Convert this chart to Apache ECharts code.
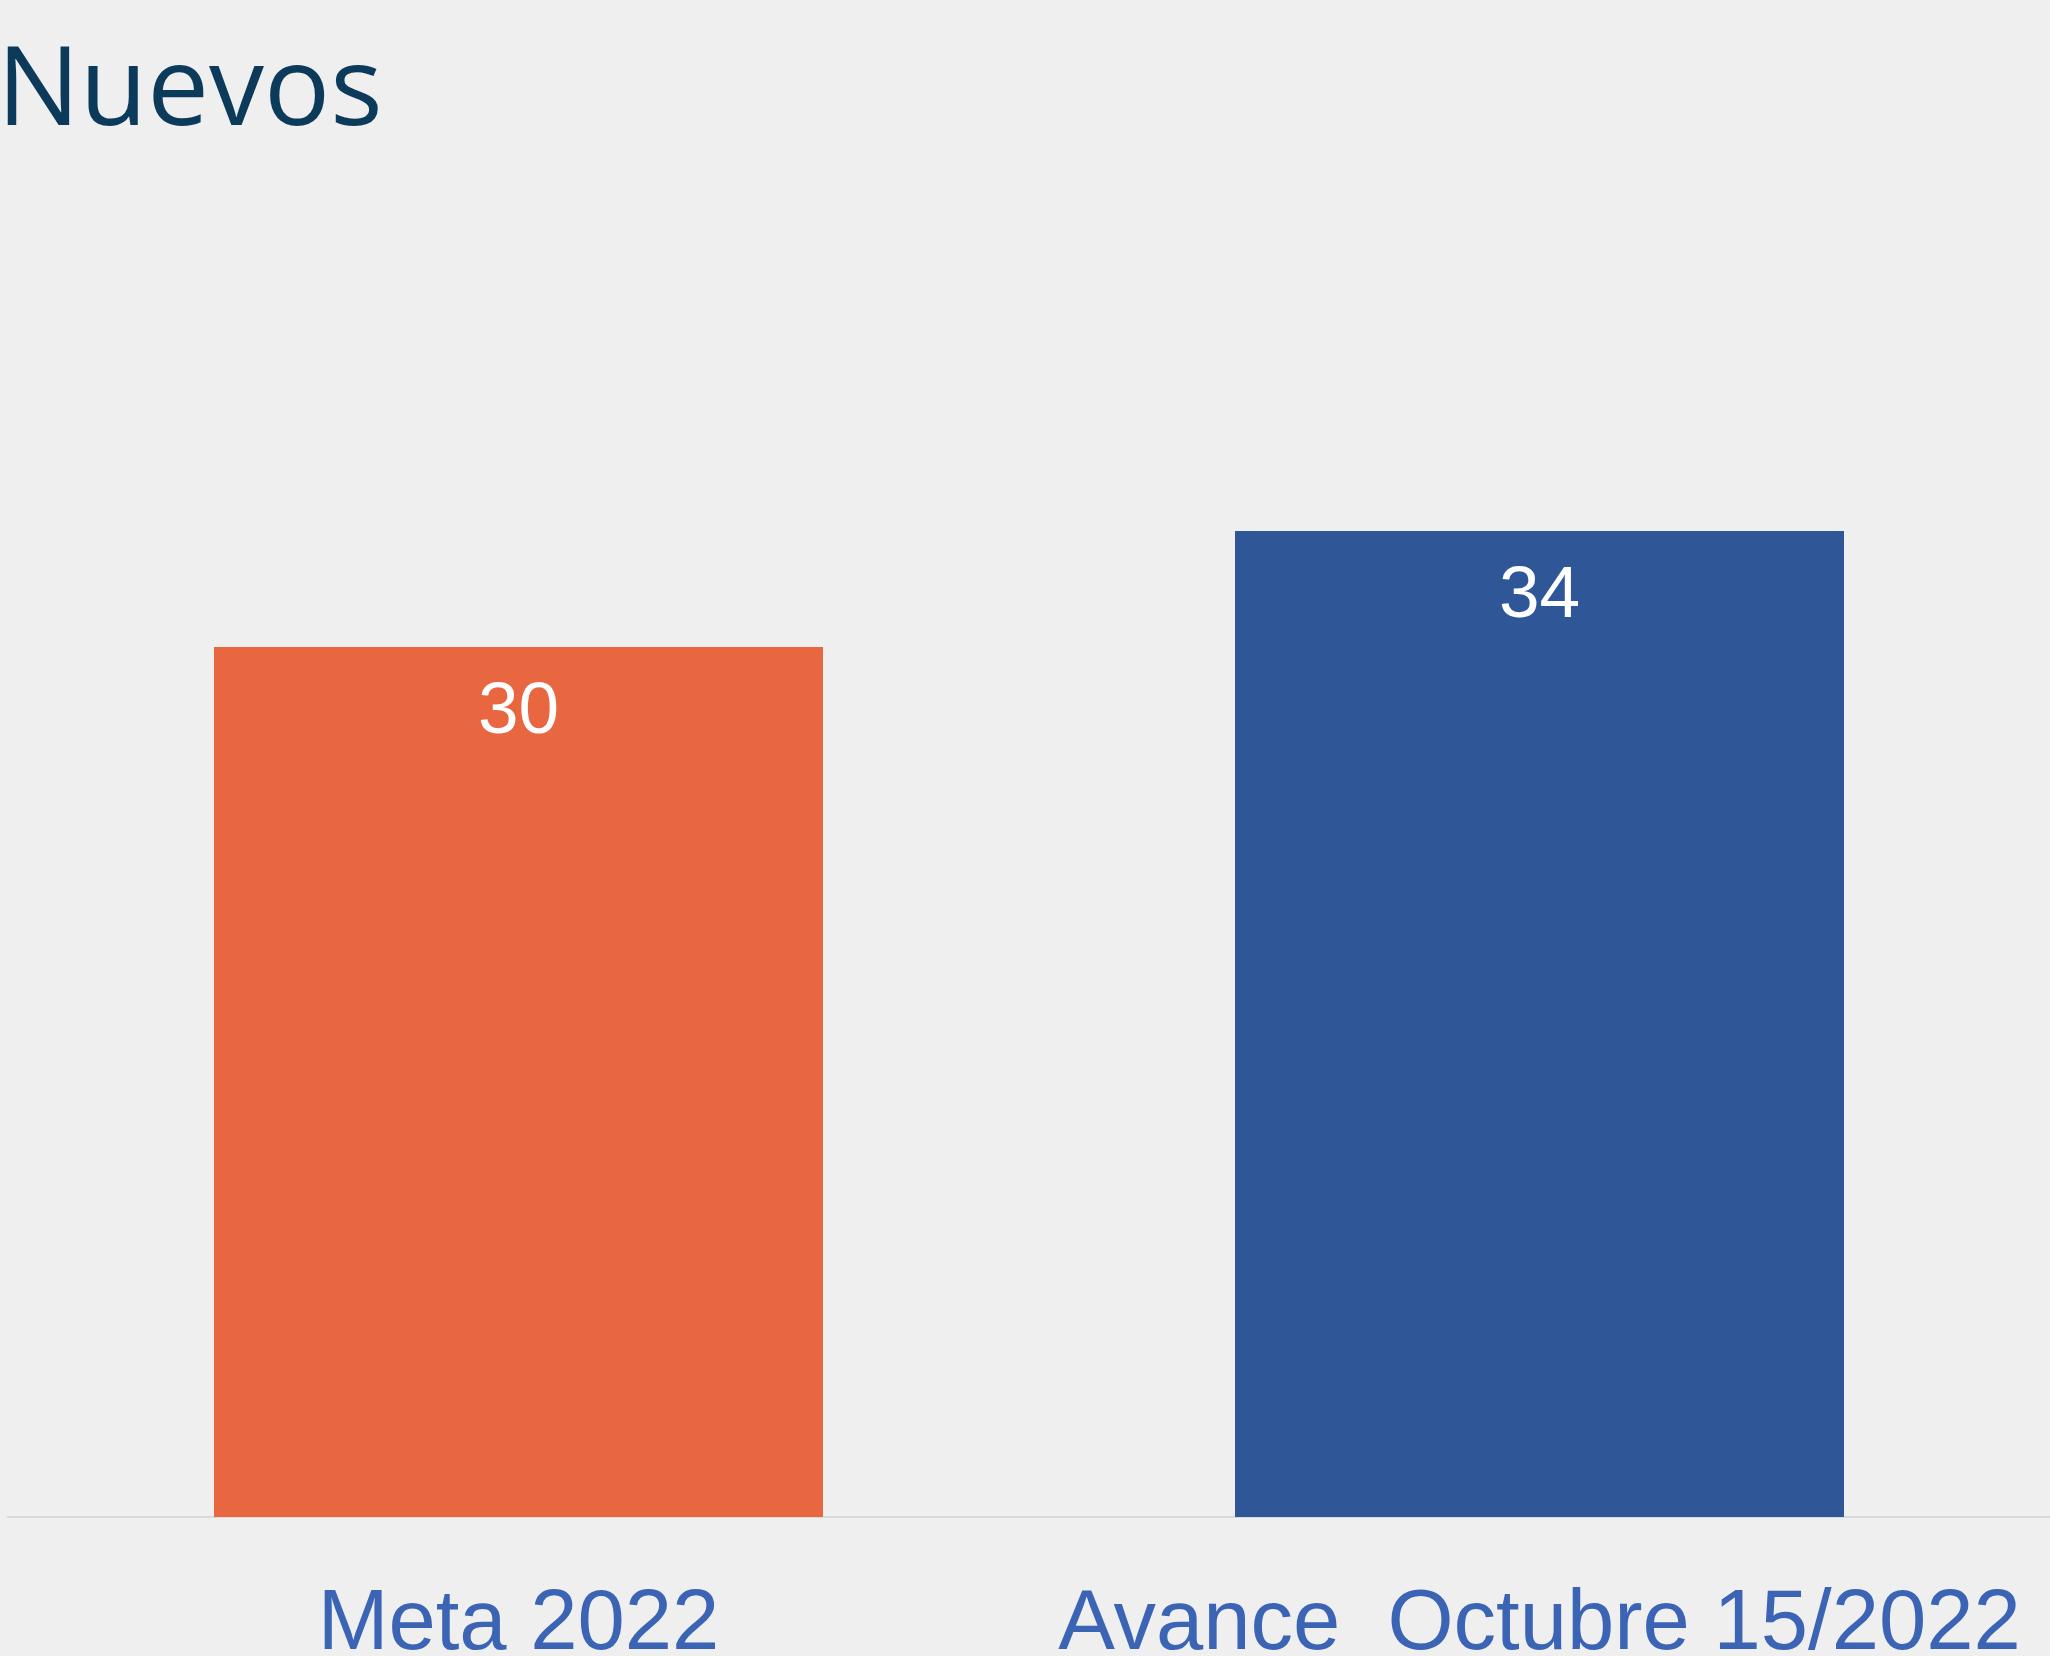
<!DOCTYPE html>
<html>
<head>
<meta charset="utf-8">
<script src="https://cdn.jsdelivr.net/npm/echarts@6/dist/echarts.min.js"></script>
<style>
  html, body { margin: 0; padding: 0; background: #efefef; }
  #chart { width: 2050px; height: 1656px; }
</style>
</head>
<body>
<div id="chart"></div>
<script>
var categories = ['Meta 2022', 'Avance  Octubre 15/2022'];
var values = [30, 34];
var barColors = ['#E86640', '#2F5697'];

var chart = echarts.init(document.getElementById('chart'));

var option = {
	backgroundColor: '#efefef',
	animation: false,
	title: {
		text: 'Nuevos',
		left: -8,
		top: 34,
		textStyle: {
			fontFamily: 'Open Sans',
			fontWeight: 'normal',
			fontSize: 110,
			color: '#0B3A5B'
		}
	},
	grid: {
		left: 8,
		right: 0,
		top: 357,
		bottom: 139,
		containLabel: false,
		outerBoundsMode: 'none'
	},
	xAxis: {
		type: 'category',
		data: categories,
		axisLine: { lineStyle: { color: '#d9d9d9', width: 2 } },
		axisTick: { show: false },
		axisLabel: {
			interval: 0,
			margin: 66,
			fontFamily: 'Liberation Sans',
			fontSize: 85,
			color: '#3B64B4'
		}
	},
	yAxis: {
		type: 'value',
		min: 0,
		max: 40,
		show: false,
		splitLine: { show: false }
	},
	series: [{
		type: 'bar',
		barWidth: 609,
		data: values.map(function(v, i) {
			return { value: v, itemStyle: { color: barColors[i] } };
		}),
		label: {
			show: true,
			position: 'insideTop',
			distance: 29,
			fontFamily: 'Liberation Sans',
			fontSize: 73,
			color: '#ffffff'
		}
	}]
};

chart.setOption(option);
</script>
</body>
</html>
